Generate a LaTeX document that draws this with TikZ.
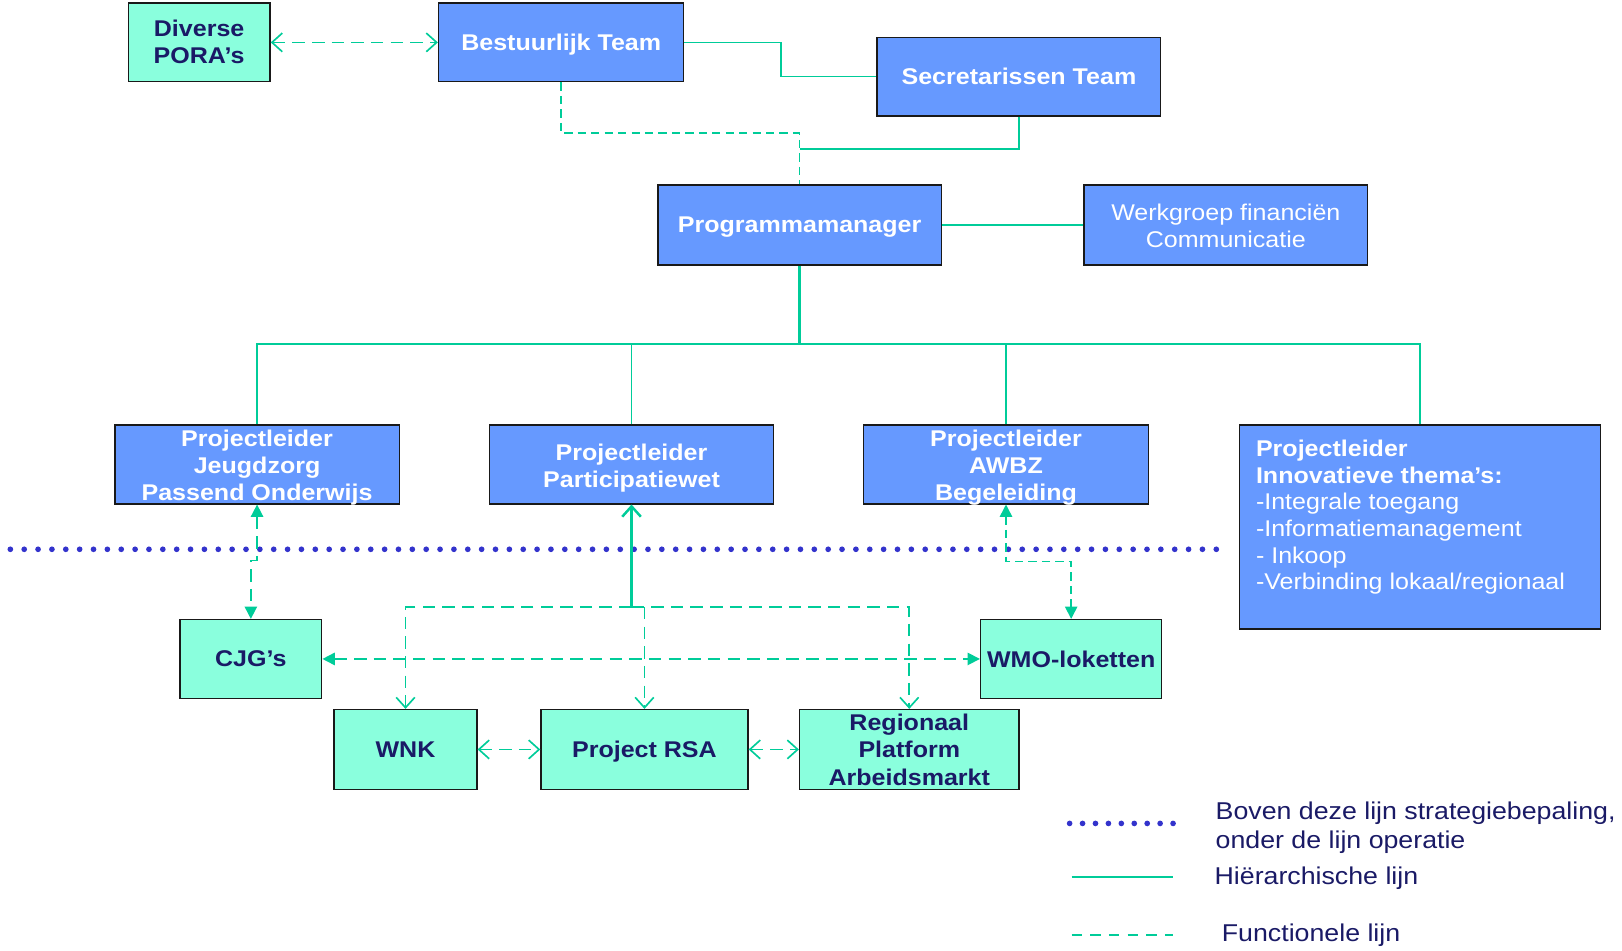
\documentclass[tikz,border=0pt]{standalone}
\usepackage{fontspec}
\setmainfont{Liberation Sans}[FakeStretch=1.1]
\usetikzlibrary{arrows.meta,calc}
\definecolor{boxblue}{HTML}{6699FF}
\definecolor{aqua}{HTML}{8AFFDD}
\definecolor{navy}{HTML}{1A1A66}
\definecolor{lineg}{HTML}{00CC99}
\definecolor{dotblue}{HTML}{3333CC}
% #1 = distance of the last line's baseline below the box centre
\newcommand\boxtext[2]{\raisebox{-#1pt}[0pt][0pt]{\begin{tabular}[b]{@{}c@{}}#2\end{tabular}}}
\tikzset{
 box/.style={draw=black!90, line width=1.4pt, inner sep=0pt, font=\fontsize{22}{26.3}\selectfont\bfseries},
 bluebox/.style={box, fill=boxblue, text=white},
 aquabox/.style={box, fill=aqua, text=navy},
 hline/.style={draw=lineg, line width=1.6pt},
 fdash/.style={draw=lineg, line width=1.6pt, dash pattern=on 12pt off 7pt},
 finedash/.style={draw=lineg, line width=1.5pt, dash pattern=on 8pt off 5pt},
 dotline/.style={draw=dotblue, line width=5.5pt, line cap=round, dash pattern=on 0pt off 13.4pt},
 openboth/.style={{Straight Barb[length=10pt,width=18pt]}-{Straight Barb[length=10pt,width=18pt]}},
 openend/.style={-{Straight Barb[length=10pt,width=18pt]}},
 openstart/.style={{Straight Barb[length=10pt,width=18pt]}-},
 fillboth/.style={{Triangle[length=12pt,width=12pt]}-{Triangle[length=12pt,width=12pt]}},
 legtext/.style={inner sep=0pt, anchor=west, align=left, text=navy, font=\fontsize{23.5}{28}\selectfont},
}
\begin{document}
\begin{tikzpicture}[x=1pt,y=-1pt]
\useasboundingbox (0,0) rectangle (1568,918.4);
% boxes
\node[aquabox, minimum width=137pt, minimum height=76pt] (pora) at (192.5,41) {\boxtext{20.5}{Diverse\\PORA’s}};
\node[bluebox, minimum width=237pt, minimum height=76pt] (bt) at (542.5,41) {\boxtext{8}{Bestuurlijk Team}};
\node[bluebox, minimum width=274pt, minimum height=76pt] (st) at (985,74) {\boxtext{8}{Secretarissen Team}};
\node[bluebox, minimum width=274pt, minimum height=77pt] (pm) at (773,217.5) {\boxtext{7.5}{Programmamanager}};
\node[bluebox, minimum width=274pt, minimum height=77pt, font=\fontsize{22}{26.3}\selectfont] (wg) at (1185,217.5) {\boxtext{21.5}{Werkgroep financiën\\Communicatie}};
\node[bluebox, minimum width=275pt, minimum height=76pt] (pj) at (248.5,449) {\boxtext{35}{Projectleider\\Jeugdzorg\\Passend Onderwijs}};
\node[bluebox, minimum width=275pt, minimum height=76pt] (pp) at (610.5,449) {\boxtext{22}{Projectleider\\Participatiewet}};
\node[bluebox, minimum width=275pt, minimum height=76pt] (pa) at (972.5,449) {\boxtext{35}{Projectleider\\AWBZ\\Begeleiding}};
\node[bluebox, minimum width=349pt, minimum height=197pt] (pi) at (1372.5,509.5) {};
\node[inner sep=0pt, anchor=north west, align=left, text=white, font=\fontsize{22}{25.8}\selectfont] (pitext) at (1214,425) {\textbf{Projectleider}\\\textbf{Innovatieve thema’s:}\\-Integrale toegang\\-Informatiemanagement\\- Inkoop\\-Verbinding lokaal/regionaal};
\node[aquabox, minimum width=137pt, minimum height=76pt] (cjg) at (242.5,637) {\boxtext{7.5}{CJG’s}};
\node[aquabox, minimum width=175pt, minimum height=76pt] (wmo) at (1035.5,637) {\boxtext{8}{WMO-loketten}};
\node[aquabox, minimum width=138pt, minimum height=77pt] (wnk) at (392,724.5) {\boxtext{7.5}{WNK}};
\node[aquabox, minimum width=200pt, minimum height=77pt] (rsa) at (623,724.5) {\boxtext{7.5}{Project RSA}};
\node[aquabox, minimum width=212pt, minimum height=77pt] (reg) at (879,724.5) {\boxtext{34.5}{Regionaal\\Platform\\Arbeidsmarkt}};
% top connectors
\draw[fdash, openboth] (pora.east) -- (bt.west);
\draw[hline] (bt.east) -- ++(93,0) |- (st.west);
\draw[finedash] (bt.south) -- ++(0,49) -| (pm.north);
\draw[hline] (st.south) |- ($(pm.north)+(0,-34)$);
\draw[hline] (pm.east) -- (wg.west);
% hierarchy bus
\draw[hline, line width=2.5pt] (pm.south) -- ++(0,77);
\draw[hline] (pj.north) -- ++(0,-78) -| (pi.north);
\draw[hline] (pp.north) -- ++(0,-78);
\draw[hline] (pa.north) -- ++(0,-78);
% strategy line
\coordinate (dl1) at (10,531);
\coordinate (dl2) at (1178,531);
\draw[dotline] (dl1) -- (dl2);
% functional lines below
\draw[fdash, fillboth] (pj.south) -- ++(0,54) -| (cjg.north);
\draw[hline, line width=2.4pt, openstart] (pp.south) -- ++(0,99) coordinate (pbus);
\draw[fdash, openend] (pbus) -| (wnk.north);
\draw[fdash, openend] (pbus) -| (reg.north);
\draw[fdash, openend] (rsa.north |- pbus) -- (rsa.north);
\draw[fdash, fillboth] (cjg.east) -- (wmo.west);
\draw[finedash, fillboth] (pa.south) -- ++(0,55) -| (wmo.north);
\draw[fdash, openboth] (wnk.east) -- (rsa.west);
\draw[fdash, openboth] (rsa.east) -- (reg.west);
% legend
\coordinate (la1) at (1034,796); \coordinate (la2) at (1134,796);
\coordinate (lb1) at (1036,848); \coordinate (lb2) at (1134,848);
\coordinate (lc1) at (1036,904); \coordinate (lc2) at (1134,904);
\draw[dotline, dash pattern=on 0pt off 12.5pt] (la1) -- (la2);
\draw[hline] (lb1) -- (lb2);
\draw[finedash, dash pattern=on 10pt off 8pt] (lc1) -- (lc2);
\node[legtext] (l1) at (1175,800) {Boven deze lijn strategiebepaling,\\onder de lijn operatie};
\node[legtext] (l2) at (1174,849) {Hiërarchische lijn};
\node[legtext] (l3) at (1181,904) {Functionele lijn};
\end{tikzpicture}
\end{document}
